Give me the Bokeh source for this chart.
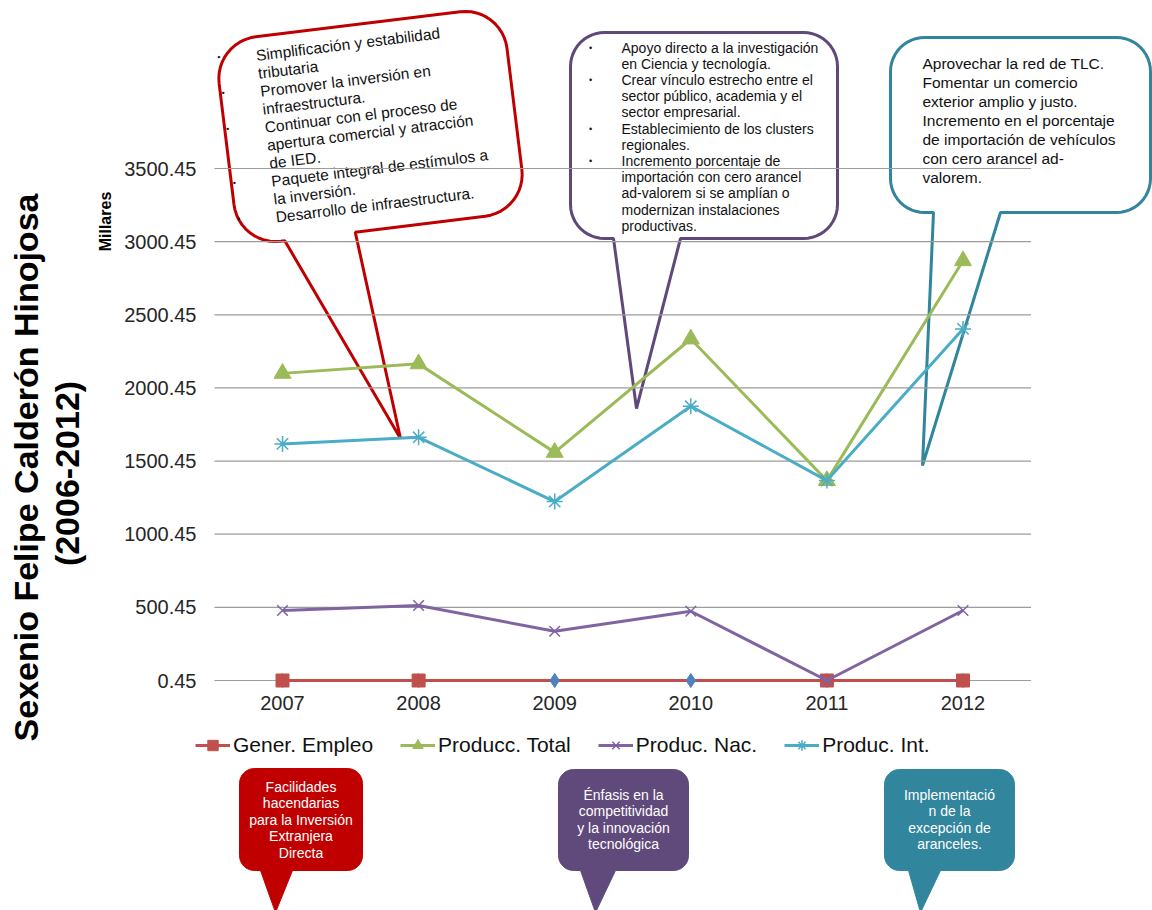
import math

from bokeh.core.properties import value
from bokeh.embed import file_html
from bokeh.models import FixedTicker, Label, Legend, LegendItem, LinearAxis, Range1d
from bokeh.plotting import figure
from bokeh.resources import INLINE

# ---- Datos (miles) ----
anios = [2007, 2008, 2009, 2010, 2011, 2012]
serie_base = [0.45, 0.45, 0.45, 0.45, 0.45, 0.45]
gener_empleo = [0.45, 0.45, 0.45, 0.45, 0.45, 0.45]
gener_empleo_marca = [True, True, False, False, True, True]
producc_total = [2100, 2165, 1560, 2335, 1367, 2870]
produc_nac = [479, 513, 337, 474, 0.45, 479]
produc_int = [1618, 1663, 1224, 1875, 1367, 2404]
ticks_y = [0.45, 500.45, 1000.45, 1500.45, 2000.45, 2500.45, 3000.45, 3500.45]
nombres = ["Gener. Empleo", "Producc. Total", "Produc. Nac.", "Produc. Int."]

FUENTE = "Liberation Sans"
W, H = 1152, 910

# Escala: el lienzo completo es el área de dibujo; los ejes se fijan dentro.
PX_ANIO0, PX_POR_ANIO = 282.0, 136.1
PX_BASE, PX_POR_500 = 680.0, 73.14
x_ini = anios[0] - PX_ANIO0 / PX_POR_ANIO
x_fin = anios[0] + (W - PX_ANIO0) / PX_POR_ANIO
y_ini = ticks_y[0] - (H - PX_BASE) * 500 / PX_POR_500
y_fin = ticks_y[0] + PX_BASE * 500 / PX_POR_500


def pt(px, py):
    """Posición en píxeles del lienzo -> coordenadas de datos."""
    return (x_ini + px / W * (x_fin - x_ini), y_fin - py / H * (y_fin - y_ini))


def girar(cx, cy, ang):
    a = math.radians(ang)
    ca, sa = math.cos(a), math.sin(a)

    def f(x, y):
        dx, dy = x - cx, y - cy
        return (cx + dx * ca + dy * sa, cy - dx * sa + dy * ca)
    return f


def globo(caja, radio, cola, punta, ang=0.0, n=12):
    """Rectángulo redondeado con cola (llamada de texto)."""
    bx0, by0, bx1, by1 = caja
    cx, cy = (bx0 + bx1) / 2, (by0 + by1) / 2
    rot = girar(cx, cy, ang)
    pts = []

    def arco(ax, ay, t0, t1):
        for i in range(n + 1):
            t = math.radians(t0 + (t1 - t0) * i / n)
            pts.append(rot(ax + radio * math.cos(t), ay + radio * math.sin(t)))

    arco(bx0 + radio, by0 + radio, 180, 270)
    arco(bx1 - radio, by0 + radio, 270, 360)
    arco(bx1 - radio, by1 - radio, 0, 90)
    pts.append(rot(cola[1], by1))
    pts.append(punta)
    pts.append(rot(cola[0], by1))
    arco(bx0 + radio, by1 - radio, 90, 180)
    datos = [pt(x, y) for x, y in pts]
    return [d[0] for d in datos], [d[1] for d in datos], rot


p = figure(width=W, height=H, output_backend="svg", toolbar_location=None,
           x_range=Range1d(x_ini, x_fin), y_range=Range1d(y_ini, y_fin),
           x_axis_type=None, y_axis_type=None, title=None, min_border=0)
p.outline_line_color = None
p.xgrid.visible = False
p.ygrid.visible = False
p.background_fill_color = "white"
p.border_fill_color = "white"

# ---- Llamadas superiores (detrás de la gráfica) ----
ROJO, MORADO, TURQ = "#C00000", "#5F497A", "#31859C"

xs, ys, rot_r = globo((225, 23, 515, 229), 42, (271, 342), (400, 438), ang=7)
p.patch(xs, ys, fill_color="white", line_color=ROJO, line_width=3)
lineas_r = ["Simplificación y estabilidad", "tributaria", "Promover la inversión en",
            "infraestructura.", "Continuar con el proceso de",
            "apertura comercial y atracción", "de IED.",
            "Paquete integral de estímulos a", "la inversión.",
            "Desarrollo de infraestructura."]
vinetas_r = [0, 2, 4, 7, 9]
tx, ty = [], []
for k in range(len(lineas_r)):
    d = pt(*rot_r(265, 41.5 + 18.1 * k))
    tx.append(d[0]); ty.append(d[1])
p.text(tx, ty, text=lineas_r, angle=math.radians(7), text_font=value(FUENTE),
       text_font_size="15.5px", text_color="#111111", text_baseline="middle")
bx, by = [], []
for k in vinetas_r:
    d = pt(*rot_r(228, 38.5 + 18.1 * k))
    bx.append(d[0]); by.append(d[1])
p.text(bx, by, text=["•"] * len(bx), angle=math.radians(7), text_font=value(FUENTE),
       text_font_size="9px", text_color="#111111", text_baseline="middle",
       text_align="center")

xs, ys, _ = globo((570, 32, 837, 238), 34, (613, 680), (636, 408))
p.patch(xs, ys, fill_color="white", line_color=MORADO, line_width=3)
lineas_m = ["Apoyo directo a la investigación", "en Ciencia y tecnología.",
            "Crear vínculo estrecho entre el", "sector público, academia y el",
            "sector empresarial.", "Establecimiento  de los clusters", "regionales.",
            "Incremento  porcentaje de", "importación  con cero arancel",
            "ad-valorem  si se amplían  o", "modernizan  instalaciones", "productivas."]
vinetas_m = [0, 2, 5, 7]
mx = [pt(621, 0)[0]] * len(lineas_m)
my = [pt(0, 47 + 16.2 * k)[1] for k in range(len(lineas_m))]
p.text(mx, my, text=lineas_m, text_font=value(FUENTE), text_font_size="14px",
       text_color="#111111", text_baseline="middle")
p.text([pt(590, 0)[0]] * len(vinetas_m), [my[k] for k in vinetas_m],
       text=["•"] * len(vinetas_m), text_font=value(FUENTE), text_font_size="9px",
       text_color="#111111", text_baseline="middle", text_align="center")

xs, ys, _ = globo((890, 37, 1150, 212), 34, (933, 1000), (922, 465))
p.patch(xs, ys, fill_color="white", line_color=TURQ, line_width=3)
lineas_t = ["Aprovechar la red de TLC.", "Fomentar un comercio",
            "exterior amplio y justo.", "Incremento  en el porcentaje",
            "de importación de vehículos", "con cero arancel ad-", "valorem."]
p.text([pt(922, 0)[0]] * len(lineas_t),
       [pt(0, 63 + 19 * k)[1] for k in range(len(lineas_t))],
       text=lineas_t, text_font=value(FUENTE), text_font_size="15.5px",
       text_color="#111111", text_baseline="middle")

# ---- Líneas de cuadrícula ----
p.segment(x0=[anios[0] - 0.5] * len(ticks_y), y0=ticks_y,
          x1=[anios[-1] + 0.5] * len(ticks_y), y1=ticks_y,
          line_color="#9c9c9c", line_width=1.2)

# ---- Series ----
p.line(anios, serie_base, line_color="#4F81BD", line_width=3)
r_emp = p.line(anios, gener_empleo, line_color="#C0504D", line_width=3)
p.scatter(anios, serie_base, marker="diamond", size=14, fill_color="#4F81BD",
          line_color="#4F81BD")
emp_x = [a for a, m in zip(anios, gener_empleo_marca) if m]
emp_y = [v for v, m in zip(gener_empleo, gener_empleo_marca) if m]
m_emp = p.scatter(emp_x, emp_y, marker="square", size=13, fill_color="#C0504D",
                  line_color="#C0504D")

r_tot = p.line(anios, producc_total, line_color="#9BBB59", line_width=3)
m_tot = p.scatter(anios, producc_total, marker="triangle", size=17,
                  fill_color="#9BBB59", line_color="#9BBB59")

r_nac = p.line(anios, produc_nac, line_color="#8064A2", line_width=3)
m_nac = p.scatter(anios, produc_nac, marker="x", size=15, line_color="#8064A2",
                  line_width=1.5)

r_int = p.line(anios, produc_int, line_color="#4BACC6", line_width=3)
m_int = p.scatter(anios, produc_int, marker="asterisk", size=16,
                  line_color="#4BACC6", line_width=1.5)

# ---- Ejes fijados dentro del lienzo ----
eje_y = LinearAxis(fixed_location=anios[0] - 0.5, ticker=FixedTicker(ticks=ticks_y),
                   major_label_overrides={t: f"{t:.2f}" for t in ticks_y})
eje_x = LinearAxis(fixed_location=ticks_y[0], ticker=FixedTicker(ticks=anios))
for eje in (eje_y, eje_x):
    eje.axis_line_color = None
    eje.major_tick_line_color = None
    eje.minor_tick_line_color = None
    eje.major_tick_out = 0
    eje.major_tick_in = 0
    eje.minor_tick_out = 0
    eje.major_label_text_font = FUENTE
    eje.major_label_text_font_size = "20px"
    eje.major_label_text_color = "#262626"
eje_y.major_label_standoff = 18
eje_x.major_label_standoff = 15
p.add_layout(eje_y, "left")
p.add_layout(eje_x, "below")

# ---- Leyenda ----
leyenda = Legend(items=[
    LegendItem(label=nombres[0], renderers=[r_emp, m_emp]),
    LegendItem(label=nombres[1], renderers=[r_tot, m_tot]),
    LegendItem(label=nombres[2], renderers=[r_nac, m_nac]),
    LegendItem(label=nombres[3], renderers=[r_int, m_int]),
], location=(195, 152), orientation="horizontal", glyph_width=35, glyph_height=26,
    label_height=26, label_standoff=3, spacing=27, padding=0, margin=0,
    label_text_font=FUENTE, label_text_font_size="21px", label_text_color="#111111",
    border_line_color=None, background_fill_alpha=0)
p.add_layout(leyenda)

# ---- Llamadas inferiores ----
bajas = [
    ((239, 768, 362, 870), (260, 292), (275, 912), ROJO, 300.5, 786,
     ["Facilidades", "hacendarias", "para la Inversión", "Extranjera", "Directa"]),
    ((558, 769, 688, 870), (580, 615), (595, 912), "#604A7B", 623, 794,
     ["Énfasis en la", "competitividad", "y la innovación", "tecnológica"]),
    ((884, 769, 1014, 870), (908, 940), (920, 912), TURQ, 949, 794,
     ["Implementació", "n de la", "excepción de", "aranceles."]),
]
for caja, cola, punta, color, tx0, ty0, lineas in bajas:
    xs, ys, _ = globo(caja, 15, cola, punta)
    p.patch(xs, ys, fill_color=color, line_color=color, line_width=1)
    p.text([pt(tx0, 0)[0]] * len(lineas),
           [pt(0, ty0 + 16.5 * k)[1] for k in range(len(lineas))],
           text=lineas, text_font=value(FUENTE), text_font_size="14px",
           text_color="white", text_align="center", text_baseline="middle")

# ---- Títulos verticales ----
for (px, py), texto, tam in [((25.5, 467), "Sexenio Felipe Calderón Hinojosa", "34px"),
                             ((66.5, 473), "(2006-2012)", "34px"),
                             ((105, 221), "Millares", "16px")]:
    x, y = pt(px, py)
    p.add_layout(Label(x=x, y=y, text=texto, angle=math.pi / 2, text_align="center",
                       text_baseline="middle", text_font=FUENTE, text_font_size=tam,
                       text_font_style="bold", text_color="#000000"))

open("out.html", "w").write(file_html(p, INLINE))
